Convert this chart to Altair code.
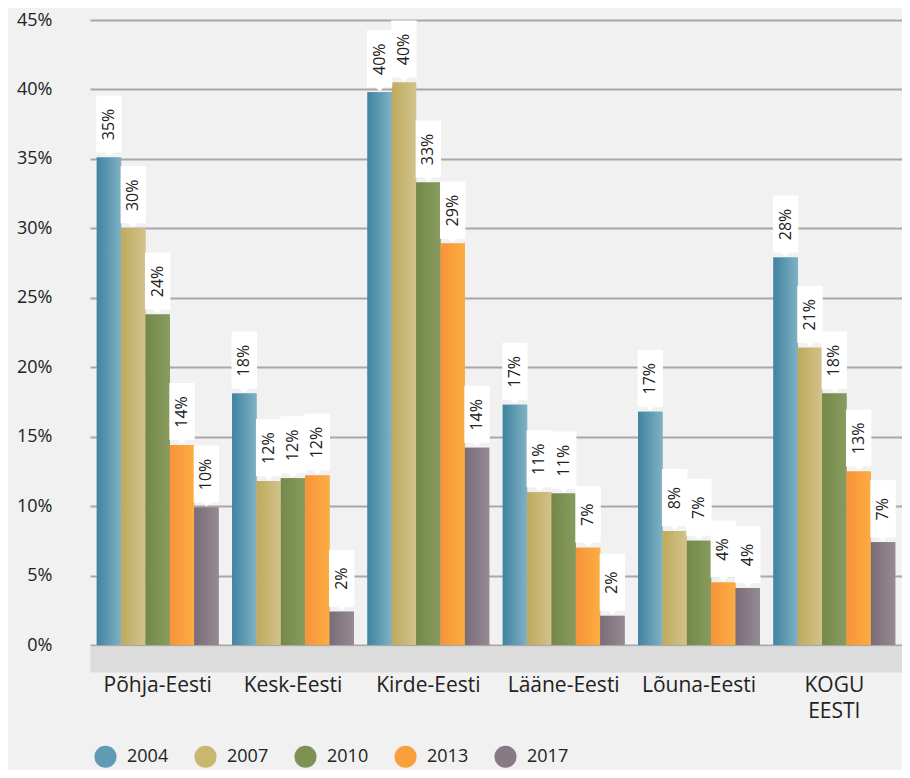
import altair as alt
import pandas as pd

regions = ["Põhja-Eesti", "Kesk-Eesti", "Kirde-Eesti", "Lääne-Eesti", "Lõuna-Eesti", "KOGU EESTI"]
years = ["2004", "2007", "2010", "2013", "2017"]

v2004 = [35.1, 18.1, 39.8, 17.3, 16.8, 27.9]
v2007 = [30.0, 11.8, 40.5, 11.0, 8.2, 21.4]
v2010 = [23.8, 12.0, 33.3, 10.9, 7.5, 18.1]
v2013 = [14.4, 12.2, 28.9, 7.0, 4.5, 12.5]
v2017 = [9.9, 2.4, 14.2, 2.1, 4.1, 7.4]

l2004 = [35, 18, 40, 17, 17, 28]
l2007 = [30, 12, 40, 11, 8, 21]
l2010 = [24, 12, 33, 11, 7, 18]
l2013 = [14, 12, 29, 7, 4, 13]
l2017 = [10, 2, 14, 2, 4, 7]

solid = ["#5f9bb3", "#c9b76f", "#7e9155", "#f9a03c", "#877a85"]
grad = [("#3f84a0", "#80b1c5"), ("#bfaa5b", "#d2c28d"), ("#748849", "#889c60"),
        ("#f7933a", "#fcad42"), ("#7a6c77", "#968a93")]

values = [v2004, v2007, v2010, v2013, v2017]
labels = [l2004, l2007, l2010, l2013, l2017]
rows = []
for yi, y in enumerate(years):
    for ri, r in enumerate(regions):
        rows.append({"region": r, "year": y, "value": values[yi][ri] / 100,
                     "label": f"{labels[yi][ri]}%"})
df = pd.DataFrame(rows)

FONT = "Open Sans"

x_enc = alt.X("region:N", sort=regions, title=None,
              scale=alt.Scale(paddingInner=0.1, paddingOuter=0.05),
              axis=alt.Axis(labelAngle=0, ticks=False, domain=True, domainWidth=26,
                            domainColor="#dcdcdc", offset=14, labelPadding=15,
                            labelFontSize=21, labelColor="#222222", labelFont=FONT,
                            labelLineHeight=26, labelExpr="split(datum.label, ' ')"))
xo_enc = alt.XOffset("year:N", scale=alt.Scale(domain=years))
y_enc = alt.Y("value:Q", title=None,
              scale=alt.Scale(domain=[0, 0.45], nice=False, zero=True),
              axis=alt.Axis(format=".0%", values=[i * 0.05 for i in range(10)],
                            grid=True, gridColor="#a8a8a8", gridWidth=2,
                            ticks=False, domain=False, labelPadding=38,
                            labelFontSize=18, labelColor="#222222", labelFont=FONT))

base = alt.Chart().mark_bar().encode(
    x=x_enc, xOffset=xo_enc, y=y_enc,
    color=alt.Color("year:N", scale=alt.Scale(domain=years, range=solid),
                    legend=alt.Legend(title=None, orient="none", direction="horizontal",
                                      legendX=4, legendY=725, symbolType="circle",
                                      symbolSize=490, symbolStrokeWidth=0,
                                      labelFontSize=18, labelFont=FONT,
                                      labelColor="#222222", labelOffset=10,
                                      columnPadding=25))
)

layers = [base]
for yi, y in enumerate(years):
    g = alt.Gradient(gradient="linear", x1=0, x2=1, y1=0, y2=0,
                     stops=[alt.GradientStop(color=grad[yi][0], offset=0),
                            alt.GradientStop(color=grad[yi][1], offset=1)])
    layers.append(
        alt.Chart().mark_bar(color=g).encode(x=x_enc, xOffset=xo_enc, y=y_enc)
        .transform_filter(alt.datum.year == y)
    )

callout_path = "M0,-0.03 L-0.14,-0.16 L-0.41,-0.16 L-0.41,-2 L0.41,-2 L0.41,-0.16 L0.14,-0.16 Z"
callouts = alt.Chart().mark_point(shape=callout_path, size=3844, filled=True,
                                   color="white", opacity=1, strokeWidth=0).encode(
    x=x_enc, xOffset=xo_enc, y=y_enc)
texts = alt.Chart().mark_text(angle=270, align="center", baseline="middle", dx=33,
                              fontSize=16, font=FONT, color="#222222").encode(
    x=x_enc, xOffset=xo_enc, y=y_enc, text="label:N")
layers += [callouts, texts]

chart = alt.layer(*layers, data=df).properties(
    width=812, height=625,
    autosize=alt.AutoSizeParams(type="none"),
    padding={"left": 82, "top": 12, "right": 0, "bottom": 125},
    background="#f1f1f1",
).configure_view(stroke=None)

chart.save("out.html", embed_options={"renderer": "svg", "actions": False})
